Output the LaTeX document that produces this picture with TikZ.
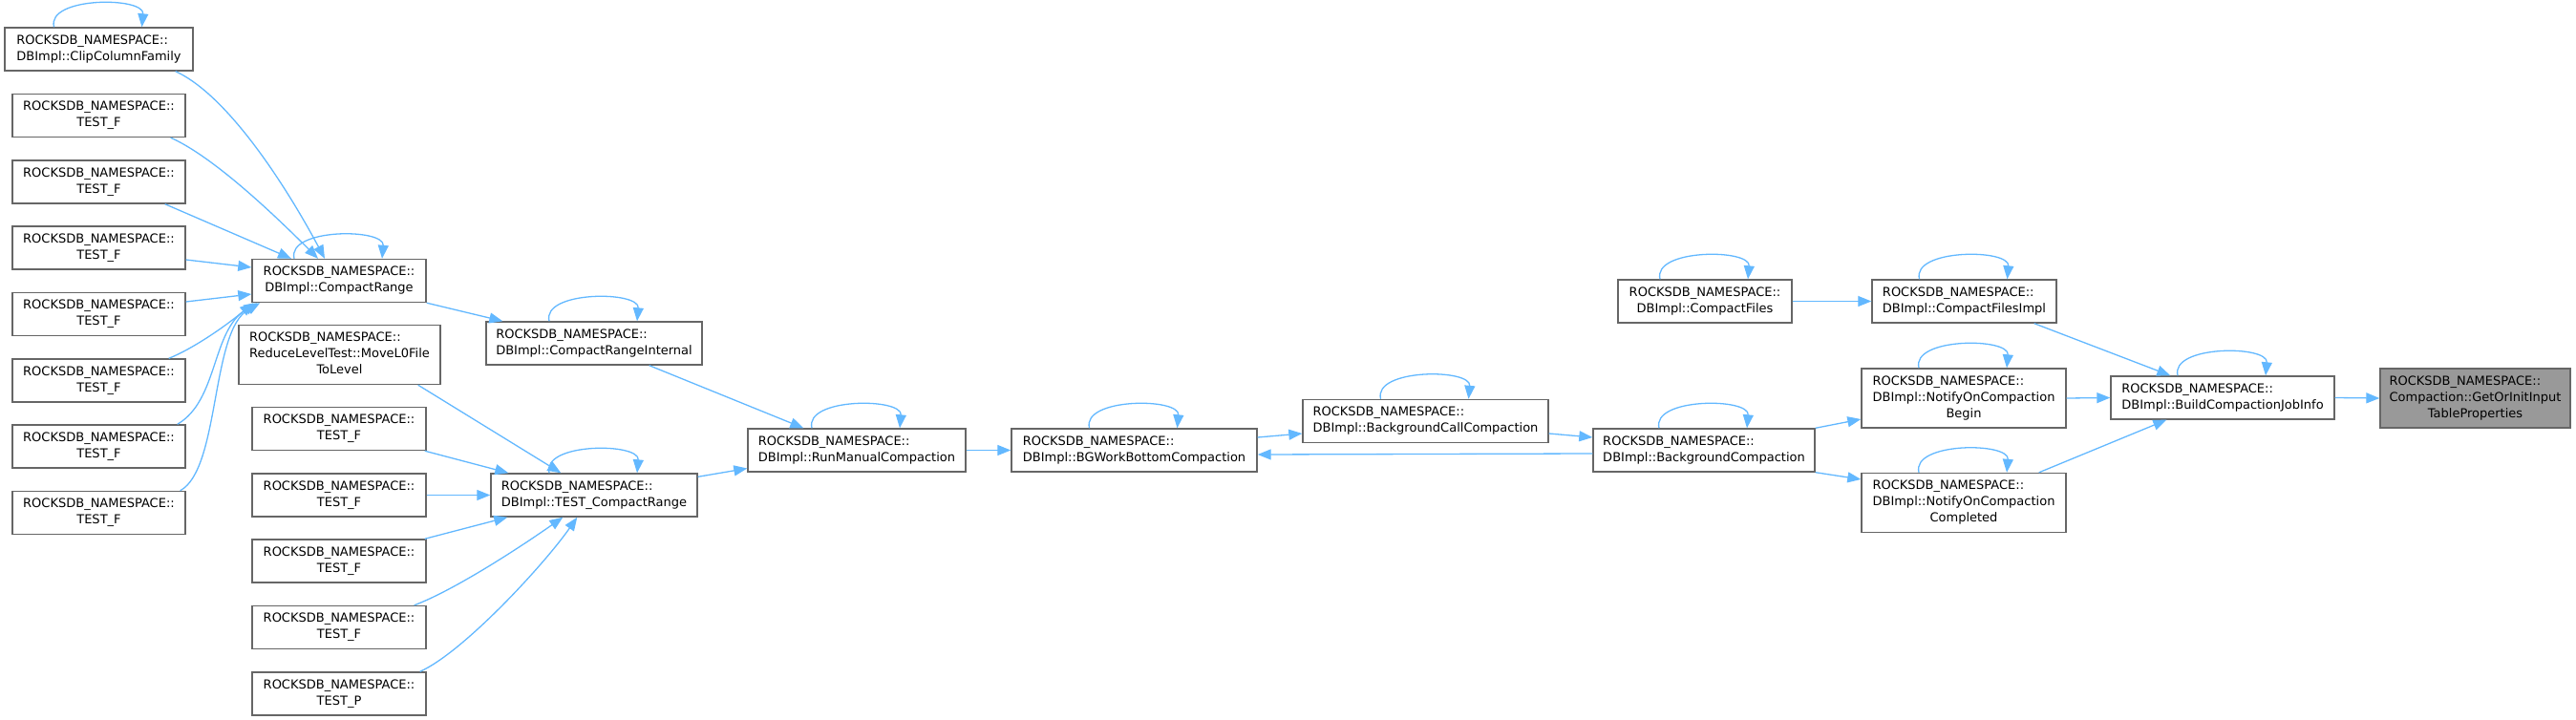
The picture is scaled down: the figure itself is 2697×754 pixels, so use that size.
\documentclass[tikz,border=0pt]{standalone}
\usepackage{fontspec}
\setmainfont{DejaVu Sans}
\usetikzlibrary{arrows.meta,calc}
\definecolor{edgeblue}{HTML}{63B8FF}
\definecolor{boxline}{HTML}{666666}
\definecolor{hifill}{HTML}{999999}
\newcommand\twol[2]{\begin{tabular}{@{}l@{}}#1\\\multicolumn{1}{@{}c@{}}{#2}\end{tabular}}
\newcommand\threel[3]{\begin{tabular}{@{}l@{}}#1\\#2\\\multicolumn{1}{@{}c@{}}{#3}\end{tabular}}
\newcommand\RN{ROCKSDB\_NAMESPACE::}
\newcommand\selfloop[1]{\draw[edge] ([xshift=-47pt]#1.north) .. controls +(-8,-32) and +(3,-32) .. ([xshift=45pt]#1.north);}
\begin{document}
\begin{tikzpicture}[x=1pt,y=-1pt,
  box/.style={draw=boxline, line width=1.4pt, fill=white, inner sep=0pt,
    minimum height=45pt, font=\fontsize{13}{17}\selectfont, text=black},
  tall/.style={minimum height=62pt},
  hi/.style={fill=hifill},
  edge/.style={draw=edgeblue, line width=1.3pt, -{Triangle[length=14pt,width=11pt]}}]
\useasboundingbox (0,0) rectangle (2697,754);
% column 1
\node[box, minimum width=197pt] (clip) at (103.5,51.5) {\twol{\RN}{DBImpl::ClipColumnFamily}};
\node[box, minimum width=181pt] (tfa) at (103.5,121) {\twol{\RN}{TEST\_F}};
\node[box, minimum width=181pt] (tfb) at (103.5,190.5) {\twol{\RN}{TEST\_F}};
\node[box, minimum width=181pt] (tfc) at (103.5,259.5) {\twol{\RN}{TEST\_F}};
\node[box, minimum width=181pt] (tfd) at (103.5,329) {\twol{\RN}{TEST\_F}};
\node[box, minimum width=181pt] (tfe) at (103.5,398.5) {\twol{\RN}{TEST\_F}};
\node[box, minimum width=181pt] (tff) at (103.5,467.5) {\twol{\RN}{TEST\_F}};
\node[box, minimum width=181pt] (tfg) at (103.5,537) {\twol{\RN}{TEST\_F}};
% column 2
\node[box, minimum width=182pt] (cr) at (355,294) {\twol{\RN}{DBImpl::CompactRange}};
\node[box, tall, minimum width=211pt] (mv) at (355.5,371.5) {\threel{\RN}{ReduceLevelTest::MoveL0File}{ToLevel}};
\node[box, minimum width=182pt] (ga) at (355,449) {\twol{\RN}{TEST\_F}};
\node[box, minimum width=182pt] (gb) at (355,518.5) {\twol{\RN}{TEST\_F}};
\node[box, minimum width=182pt] (gc) at (355,587.5) {\twol{\RN}{TEST\_F}};
\node[box, minimum width=182pt] (gd) at (355,657) {\twol{\RN}{TEST\_F}};
\node[box, minimum width=182pt] (tp) at (355,726.5) {\twol{\RN}{TEST\_P}};
% column 3
\node[box, minimum width=226pt] (cri) at (622,359.5) {\twol{\RN}{DBImpl::CompactRangeInternal}};
\node[box, minimum width=216pt] (tcr) at (622,518.5) {\twol{\RN}{DBImpl::TEST\_CompactRange}};
% rest
\node[box, minimum width=228pt] (rmc) at (897,471.5) {\twol{\RN}{DBImpl::RunManualCompaction}};
\node[box, minimum width=257pt] (bgw) at (1187.5,471.5) {\twol{\RN}{DBImpl::BGWorkBottomCompaction}};
\node[box, minimum width=257pt] (bcc) at (1492.5,441) {\twol{\RN}{DBImpl::BackgroundCallCompaction}};
\node[box, minimum width=232pt] (bc) at (1784,471.5) {\twol{\RN}{DBImpl::BackgroundCompaction}};
\node[box, minimum width=182pt] (cf) at (1785,315.5) {\twol{\RN}{DBImpl::CompactFiles}};
\node[box, minimum width=193pt] (cfi) at (2056.5,315.5) {\twol{\RN}{DBImpl::CompactFilesImpl}};
\node[box, tall, minimum width=214pt] (nb) at (2056,417) {\threel{\RN}{DBImpl::NotifyOnCompaction}{Begin}};
\node[box, tall, minimum width=214pt] (nc) at (2056,526.5) {\threel{\RN}{DBImpl::NotifyOnCompaction}{Completed}};
\node[box, minimum width=234pt] (bji) at (2327,416.5) {\twol{\RN}{DBImpl::BuildCompactionJobInfo}};
\node[box, hi, tall, minimum width=199pt] (goi) at (2591.5,417) {\threel{\RN}{Compaction::GetOrInitInput}{TableProperties}};
% self loops
\selfloop{clip}
\selfloop{cr}
\selfloop{cri}
\selfloop{tcr}
\selfloop{rmc}
\selfloop{bgw}
\selfloop{bcc}
\selfloop{bc}
\selfloop{cf}
\selfloop{cfi}
\selfloop{nb}
\selfloop{nc}
\selfloop{bji}
% edges into CompactRange
\draw[edge] ([xshift=-19pt]clip.south east) .. controls +(55,25) and +(-40,-75) .. ([xshift=-15pt]cr.north);
\draw[edge] ([xshift=-16pt]tfa.south east) .. controls +(45,20) and +(-45,-45) .. ([xshift=-22pt]cr.north);
\draw[edge] ([xshift=-22pt]tfb.south east) -- ([xshift=-50pt]cr.north);
\draw[edge] ([yshift=-12.5pt]tfc.east) -- ([yshift=14pt]cr.west);
\draw[edge] ([yshift=13pt]tfd.east) -- ([yshift=-14pt]cr.west);
\draw[edge] ([xshift=-18pt]tfe.north east) .. controls +(25,-10) and +(-30,25) .. ([xshift=2pt]cr.south west);
\draw[edge] ([xshift=-9pt]tff.north east) .. controls +(43,-25) and +(-48,29) .. ([xshift=6pt]cr.south west);
\draw[edge] ([xshift=-6pt]tfg.north east) .. controls +(42,-23) and +(-52,29) .. ([xshift=9pt]cr.south west);
% CompactRange chain
\draw[edge] (cr.south east) -- ([xshift=18pt]cri.north west);
\draw[edge] ([xshift=-56pt]cri.south east) -- ([xshift=59pt]rmc.north west);
% into TEST_CompactRange
\draw[edge] ([xshift=-24pt]mv.south east) -- ([xshift=74pt]tcr.north west);
\draw[edge] ([xshift=-2pt]ga.south east) -- ([xshift=19pt]tcr.north west);
\draw[edge] (gb.east) -- (tcr.west);
\draw[edge] ([xshift=-2pt]gc.north east) -- ([xshift=18pt]tcr.south west);
\draw[edge] ([xshift=-13pt]gd.north east) .. controls +(40,-15) and +(-50,35) .. ([xshift=76pt]tcr.south west);
\draw[edge] ([xshift=-7pt]tp.north east) .. controls +(45,-20) and +(-35,50) .. ([xshift=91pt]tcr.south west);
\draw[edge] ([yshift=-4pt]tcr.north east) -- ([yshift=-19pt]rmc.west);
% main chain
\draw[edge] (rmc.east) -- (bgw.west);
\draw[edge] ([yshift=13.5pt]bgw.east) -- ([yshift=-13pt]bcc.west);
\draw[edge] ([yshift=-13pt]bcc.east) -- ([yshift=13.5pt]bc.west);
\draw[edge] ([yshift=-3.5pt]bc.west) -- ([yshift=-4.5pt]bgw.east);
\draw[edge] (bc.north east) -- ([yshift=-22pt]nb.west);
\draw[edge] (bc.south east) -- ([yshift=24.5pt]nc.west);
\draw[edge] (cf.east) -- (cfi.west);
\draw[edge] ([xshift=-24pt]cfi.south east) -- ([xshift=63pt]bji.north west);
\draw[edge] (nb.east) -- (bji.west);
\draw[edge] ([xshift=-29pt]nc.north east) -- ([xshift=59pt]bji.south west);
\draw[edge] (bji.east) -- (goi.west);
\end{tikzpicture}
\end{document}
